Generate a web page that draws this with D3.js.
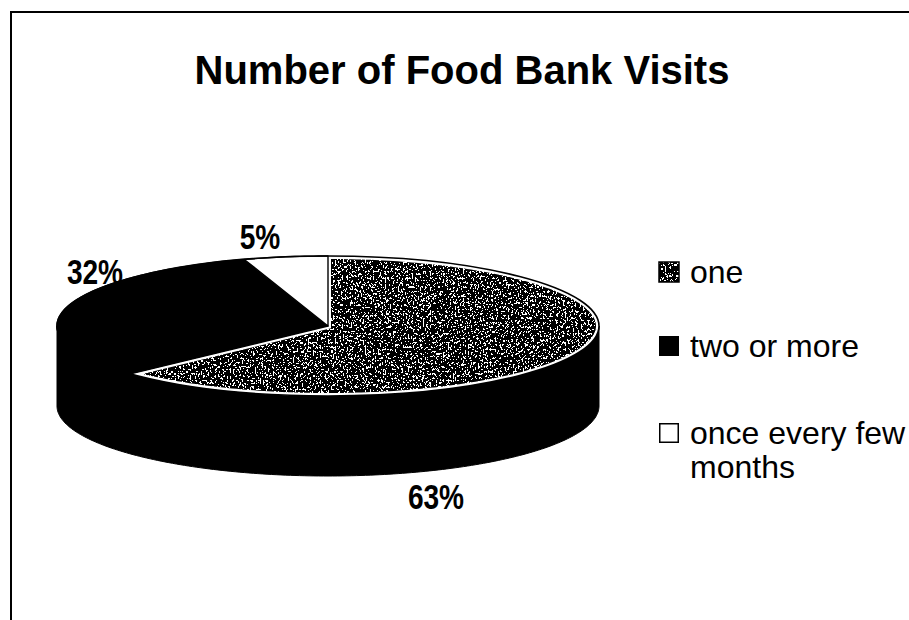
<!DOCTYPE html>
<html>
<head>
<meta charset="utf-8">
<script src="https://cdn.jsdelivr.net/npm/d3@7"></script>
<style>
  html, body { margin: 0; padding: 0; background: #fff; }
  svg { display: block; }
</style>
</head>
<body>
<div id="chart"></div>
<script>
// Data
const categories = ["one", "two or more", "once every few months"];
const values = [63, 32, 5];
const valueLabels = ["63%", "32%", "5%"];
const chartTitle = "Number of Food Bank Visits";

// Layout
const W = 909, H = 620;
const cx = 328, cy = 326, rx = 271, ry = 70, depth = 80;
// label anchors (text centre x, baseline y) per slice
const labelAnchor = [[436, 509], [95, 284], [260, 249]];
const legendX = 659, legendTextX = 690, legendBaselines = [283, 357, 444];

const svg = d3.select("#chart").append("svg")
  .attr("width", W).attr("height", H)
  .attr("viewBox", `0 0 ${W} ${H}`);

const defs = svg.append("defs");
// speckled print texture for the "one" slice
const f = defs.append("filter").attr("id", "speckle")
  .attr("x", "0").attr("y", "0").attr("width", "1").attr("height", "1")
  .attr("color-interpolation-filters", "sRGB");
f.append("feTurbulence").attr("type", "fractalNoise")
  .attr("baseFrequency", "0.6 0.45").attr("numOctaves", 3).attr("seed", 11).attr("result", "noise");
f.append("feColorMatrix").attr("in", "noise").attr("type", "matrix")
  .attr("values", "1 0 0 0 0  1 0 0 0 0  1 0 0 0 0  0 0 0 0 1").attr("result", "grey");
const ct = f.append("feComponentTransfer").attr("in", "grey").attr("result", "bw");
const table = d3.range(50).map(k => (k >= 30 ? 1 : 0)).join(" ");
["feFuncR", "feFuncG", "feFuncB"].forEach(fn =>
  ct.append(fn).attr("type", "discrete").attr("tableValues", table));
f.append("feComposite").attr("in", "bw").attr("in2", "SourceAlpha").attr("operator", "in");

svg.append("rect").attr("width", W).attr("height", H).attr("fill", "#fff");

// frame
svg.append("path")
  .attr("d", `M11,${H} L11,12 L${W},12`)
  .attr("fill", "none").attr("stroke", "#000").attr("stroke-width", 2);

// title
svg.append("text")
  .attr("x", 462).attr("y", 84)
  .attr("text-anchor", "middle")
  .attr("font-family", "'Liberation Sans', Arial, sans-serif")
  .attr("font-weight", "bold").attr("font-size", 40)
  .attr("fill", "#000")
  .text(chartTitle);

// pie geometry
const pie = d3.pie().sort(null).value(d => d);
const arcs = pie(values);
const proj = a => [cx + rx * Math.sin(a), cy - ry * Math.cos(a)];

function slicePath(a0, a1) {
  const n = Math.max(2, Math.ceil((a1 - a0) / (Math.PI / 180)));
  const pts = [[cx, cy]];
  for (let i = 0; i <= n; i++) pts.push(proj(a0 + (a1 - a0) * i / n));
  return d3.line()(pts) + "Z";
}

// side wall (front half of the cylinder)
const wall = d3.path();
wall.moveTo(cx + rx, cy);
for (let i = 0; i <= 180; i++) {
  const [x, y] = proj(Math.PI / 2 + Math.PI * i / 180);
  wall.lineTo(x, y);
}
for (let i = 180; i >= 0; i--) {
  const [x, y] = proj(Math.PI / 2 + Math.PI * i / 180);
  wall.lineTo(x, y + depth);
}
wall.closePath();
svg.append("path").attr("d", wall.toString()).attr("fill", "#000").attr("stroke", "#000").attr("stroke-width", 1);

const fills = ["texture", "#000", "#fff"];
const topFace = svg.append("g");
arcs.forEach((d, i) => {
  const p = slicePath(d.startAngle, d.endAngle);
  if (fills[i] === "texture") {
    defs.append("clipPath").attr("id", "clip" + i).append("path").attr("d", p);
    topFace.append("path").attr("d", p).attr("fill", "#000").attr("filter", "url(#speckle)");
    topFace.append("path").attr("d", p).attr("fill", "none")
      .attr("stroke", "#fff").attr("stroke-width", 6).attr("clip-path", `url(#clip${i})`);
  } else {
    topFace.append("path").attr("d", p).attr("fill", fills[i])
      .attr("stroke", "#000").attr("stroke-width", 1.4).attr("stroke-linejoin", "round");
  }
});
// outline of the top face
topFace.append("ellipse").attr("cx", cx).attr("cy", cy).attr("rx", rx).attr("ry", ry)
  .attr("fill", "none").attr("stroke", "#000").attr("stroke-width", 1.6);

// value labels (condensed bold lettering)
svg.append("g").selectAll("text").data(arcs).join("text")
  .attr("transform", (d, i) => `translate(${labelAnchor[i][0]},${labelAnchor[i][1]}) scale(0.78,1)`)
  .attr("text-anchor", "middle")
  .attr("font-family", "'Liberation Sans', Arial, sans-serif")
  .attr("font-weight", "bold").attr("font-size", 36)
  .attr("fill", "#000")
  .text((d, i) => valueLabels[i]);

// legend
const legend = svg.append("g");
categories.forEach((c, i) => {
  const by = legendBaselines[i];
  const sw = 20;
  if (fills[i] === "texture") {
    legend.append("rect").attr("x", legendX).attr("y", by - sw - 1).attr("width", sw).attr("height", sw)
      .attr("fill", "#000").attr("filter", "url(#speckle)");
    legend.append("rect").attr("x", legendX).attr("y", by - sw - 1).attr("width", sw).attr("height", sw)
      .attr("fill", "none").attr("stroke", "#000").attr("stroke-width", 1.5);
  } else {
    legend.append("rect").attr("x", legendX + 0.75).attr("y", by - sw - 0.25).attr("width", sw - 1.5).attr("height", sw - 1.5)
      .attr("fill", fills[i]).attr("stroke", "#000").attr("stroke-width", 1.5);
  }
  const t = legend.append("text")
    .attr("x", legendTextX).attr("y", by)
    .attr("font-family", "'Liberation Sans', Arial, sans-serif")
    .attr("font-size", 32).attr("fill", "#000");
  // wrap long entries
  const words = c.split(" ");
  let line = [], ts = t.append("tspan").attr("x", legendTextX).attr("y", by);
  let ln = 0;
  words.forEach(w => {
    line.push(w);
    ts.text(line.join(" "));
    if (ts.node().getComputedTextLength() > 228 && line.length > 1) {
      line.pop();
      ts.text(line.join(" "));
      line = [w];
      ln++;
      ts = t.append("tspan").attr("x", legendTextX).attr("y", by + ln * 34).text(w);
    }
  });
});
</script>
</body>
</html>
